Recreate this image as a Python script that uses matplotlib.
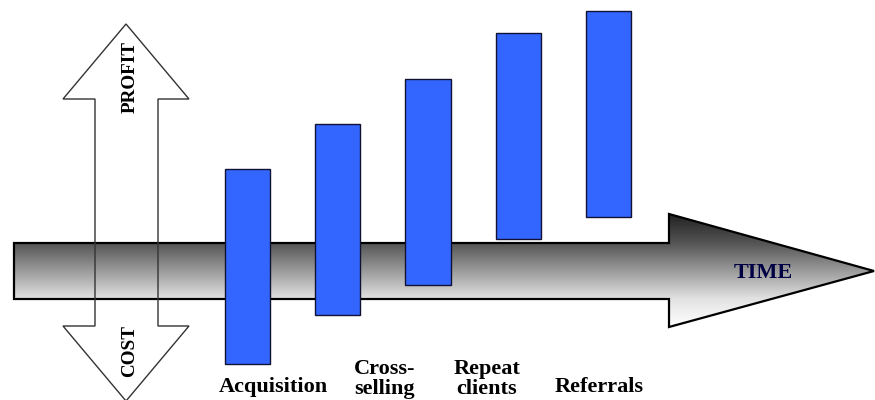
import numpy as np
import matplotlib.pyplot as plt
from matplotlib.patches import Polygon
from matplotlib.colors import LinearSegmentedColormap

# stages along the time arrow (5 bars, last one unlabelled)
stage_labels = ['Acquisition', 'Cross-\nselling', 'Repeat\nclients', 'Referrals']
label_x = [273, 385, 487, 599]
label_y = [387, 379, 379, 387]

# bar extent relative to the time axis: + is profit side, - is cost side
bar_top = [102, 147, 192, 238, 260]
bar_bottom = [-93, -44, -14, 32, 54]

plt.rcParams['font.family'] = ['Liberation Serif', 'DejaVu Serif']

fig = plt.figure(figsize=(8.75, 4), dpi=100)

# background axes in pixel coordinates for the arrows
deco = fig.add_axes([0, 0, 1, 1], zorder=0)
deco.set_xlim(0, 875)
deco.set_ylim(400, 0)
deco.axis('off')

# horizontal TIME arrow with grey gradient
time_pts = [(14, 243), (669, 243), (669, 214), (874, 271), (669, 327),
            (669, 299), (14, 299)]
time_arrow = Polygon(time_pts, closed=True, facecolor='none',
                     edgecolor='black', lw=1.6, zorder=3)
deco.add_patch(time_arrow)
grey = LinearSegmentedColormap.from_list(
    'grey', [(0, '#222222'), (0.26, '#555555'), (0.75, '#e2e2e2'), (1, '#ffffff')])
grad = np.linspace(0, 1, 256).reshape(-1, 1)
img = deco.imshow(grad, cmap=grey, aspect='auto', extent=(14, 874, 327, 214),
                  zorder=2)
clip = Polygon(time_pts, closed=True, transform=deco.transData)
img.set_clip_path(clip)
deco.text(763, 273, 'TIME', ha='center', va='center', fontsize=16,
          fontweight='bold', color='#000044', zorder=4)

# vertical PROFIT / COST arrow (outline only)
pc_pts = [(126, 24), (189, 99), (158, 99), (158, 326), (189, 326), (126, 401),
          (63, 326), (95, 326), (95, 99), (63, 99)]
deco.add_patch(Polygon(pc_pts, closed=True, facecolor='none',
                       edgecolor='#333333', lw=1.0, zorder=5))
deco.text(130, 77, 'PROFIT', rotation=90, ha='center', va='center',
          fontsize=13.8, fontweight='bold')
deco.text(130, 351, 'COST', rotation=90, ha='center', va='center',
          fontsize=13.8, fontweight='bold')

for lab, x, y in zip(stage_labels, label_x, label_y):
    deco.text(x, y, lab, ha='center', va='center', fontsize=16,
              fontweight='bold', linespacing=1.0)

# bars on top
ax = fig.add_axes([0, 0, 1, 1], zorder=1)
ax.patch.set_alpha(0)
pos = np.arange(len(bar_top))
heights = np.array(bar_top) - np.array(bar_bottom)
ax.bar(pos, heights, bottom=bar_bottom, width=0.5, color='#3366ff',
       edgecolor='#111133', linewidth=1.0)
ax.set_xlim(-247.5 / 90.25, (875 - 247.5) / 90.25)
ax.set_ylim(-129, 271)
ax.axis('off')

fig.savefig('out.png', dpi=100)
